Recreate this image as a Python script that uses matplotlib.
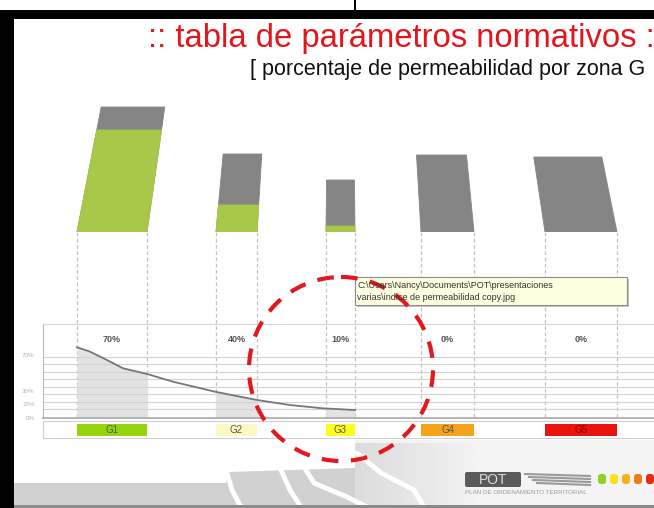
import numpy as np
import matplotlib.pyplot as plt
from matplotlib.patches import Polygon, Rectangle, Ellipse, FancyBboxPatch
from matplotlib.colors import LinearSegmentedColormap

plt.rcParams['font.family'] = ['Liberation Sans', 'DejaVu Sans']

W, H = 654, 508

# data
zones = ['G1', 'G2', 'G3', 'G4', 'G5']
permeability = [70, 40, 10, 0, 0]
zone_colors = ['#93d40c', '#fbf9c2', '#fdfd1c', '#f5a31d', '#e8120f']
prism_total = [125, 78, 52, 77, 75]
prism_green = [102, 27, 6, 0, 0]
curve_x = [77, 90, 107, 123, 147, 173, 215, 240, 257, 290, 323, 355]
curve_pct = [78.6, 73.7, 64.4, 55.2, 48.9, 40.3, 29.2, 23.7, 20.0, 14.4, 10.7, 8.9]
scale_ticks = [0, 15, 30, 70]

# layout (pixels)
col_left = [77, 216, 326, 421, 545]
col_right = [147, 257, 355, 474, 617]
centers = [(l + r) / 2 for l, r in zip(col_left, col_right)]
widths = [r - l for l, r in zip(col_left, col_right)]


def px_axes(x0, y0, x1, y1, **kw):
    return fig.add_axes([x0 / W, 1 - y1 / H, (x1 - x0) / W, (y1 - y0) / H], **kw)


fig = plt.figure(figsize=(W / 100, H / 100), dpi=100)
fig.patch.set_facecolor('white')

# ---- background slide (pixel coords)
bg = fig.add_axes([0, 0, 1, 1], zorder=0)
bg.set_xlim(0, W)
bg.set_ylim(H, 0)
bg.axis('off')
bg.add_patch(Rectangle((355, 440), W - 355, 65, color='#f4f4f4', lw=0))
fade = LinearSegmentedColormap.from_list('fade', ['#dcdcdc', '#f4f4f4'])
bg.imshow(np.linspace(0, 1, 100)[None, :], cmap=fade, aspect='auto',
          extent=(355, 480, 505, 443), zorder=1.5)
bg.add_patch(Polygon([(14, 483), (226, 483), (228, 472), (355, 468), (355, 505), (14, 505)],
                     color='#d1d1d1', lw=0))
stripes = [
    [(227, 473), (232, 490), (241, 507)],
    [(281, 470), (290, 490), (301, 507)],
    [(304, 467), (314, 483), (347, 497), (367, 507)],
    [(357, 453), (381, 473), (414, 490), (424, 507)],
]
for s in stripes:
    xs, ys = zip(*s)
    bg.plot(xs, ys, color='white', lw=3.5, solid_capstyle='round', solid_joinstyle='round')
bg.add_patch(Rectangle((0, 10), 14, H, color='black', lw=0, zorder=3))
bg.add_patch(Rectangle((0, 10), W, 9, color='black', lw=0, zorder=3))
bg.add_patch(Rectangle((354, 0), 2, 10, color='black', lw=0, zorder=3))
bg.add_patch(Rectangle((14, 505), W, 3, color='#8a8a8a', lw=0, zorder=3))
bg.set_xlim(0, W)
bg.set_ylim(H, 0)

bg.text(148, 38, ':: tabla de parámetros normativos :', color='#e4141b',
        fontsize=23.6, va='center', ha='left')
bg.text(250, 70, '[ porcentaje de permeabilidad por zona G', color='#111111',
        fontsize=15.5, va='center', ha='left')

# dashed column guides
for l, r in zip(col_left, col_right):
    bg.vlines([l, r], 232, 418, colors='#c4c4c4', linestyles=(0, (3, 2)), lw=0.9)

# POT logo
bg.add_patch(FancyBboxPatch((465, 472), 56, 15, boxstyle='round,pad=0,rounding_size=2',
                            color='#5a5a5a', lw=0, zorder=3))
bg.text(493, 479.5, 'POT', color='#dcdcdc', fontsize=10, ha='center', va='center', zorder=4)
for i in range(4):
    bg.plot([525 + i * 4, 590], [474 + i * 3, 476 + i * 3], color='#9a9a9a', lw=1.5)
for i, c in enumerate(['#8fd11b', '#f7e11a', '#f5b21a', '#f07b1a', '#e52b17']):
    bg.add_patch(FancyBboxPatch((598 + i * 12, 474), 8, 10,
                                boxstyle='round,pad=0,rounding_size=3', color=c, lw=0, zorder=3))
bg.text(465, 492, 'PLAN DE ORDENAMIENTO TERRITORIAL', color='#9a9a9a',
        fontsize=4.5, ha='left', va='center')

# ---- perspective bars
axb = px_axes(0, 100, W, 232, zorder=2)
axb.set_xlim(0, W)
axb.set_ylim(0, 132)
axb.axis('off')
vp, k = 341, 0.000733


def prism(l, r, h0, h1, color):
    s0, s1 = 1 - k * h0, 1 - k * h1
    pts = [(vp + (l - vp) * s0, h0), (vp + (r - vp) * s0, h0),
           (vp + (r - vp) * s1, h1), (vp + (l - vp) * s1, h1)]
    axb.add_patch(Polygon(pts, closed=True, color=color, lw=0.6, joinstyle='round'))


for l, r, t, g in zip(col_left, col_right, prism_total, prism_green):
    prism(l, r, 0, t, '#858585')
    if g > 0:
        prism(l, r, 0, g, '#a8c84a')

# ---- lower curve chart
axc = px_axes(43, 324, W, 418, zorder=2)
axc.patch.set_alpha(0)
axc.set_xlim(43, W)
axc.set_ylim(0, 104.4)
axc.hlines(np.linspace(10, 67.8, 8), 43, W, colors='#d2d2d2', lw=0.8)
for l, r in zip(col_left, col_right):
    fb = axc.fill_between(curve_x, 0, curve_pct, color='#e3e3e3', lw=0)
    fb.set_clip_path(Rectangle((l, 0), r - l, 104.4, transform=axc.transData))
axc.plot(curve_x, curve_pct, color='#777777', lw=1.3)
for c, p in zip(centers, permeability):
    axc.text(c, 87, f'{p}%', ha='center', va='center', fontsize=6.5,
             color='#555555', fontweight='bold')
axc.set_xticks([])
axc.set_yticks(scale_ticks)
axc.set_yticklabels([f'{t}%' for t in scale_ticks])
axc.tick_params(axis='y', length=0, pad=6, labelsize=4.5, labelcolor='#b5b5b5')
axc.spines['right'].set_visible(False)
axc.spines['top'].set_color('#d6d6d6')
axc.spines['left'].set_color('#b8b8b8')
axc.spines['bottom'].set_color('#a8a8a8')
axc.spines['bottom'].set_linewidth(1.2)

# ---- zone label strip
axs = px_axes(43, 421, W, 438, zorder=2)
axs.set_xlim(43, W)
axs.set_ylim(0, 1)
axs.bar(centers, 0.7, width=widths, bottom=0.12, color=zone_colors)
for c, z in zip(centers, zones):
    axs.text(c, 0.47, z, ha='center', va='center', fontsize=7,
             color='#8a0000' if z == 'G5' else '#555555')
axs.set_xticks([])
axs.set_yticks([])
for s in axs.spines.values():
    s.set_color('#d0d0d0')
axs.spines['right'].set_visible(False)

# ---- overlay: tooltip + red dashed circle
top = fig.add_axes([0, 0, 1, 1], zorder=10)
top.patch.set_alpha(0)
top.set_xlim(0, W)
top.set_ylim(H, 0)
top.axis('off')
top.add_patch(Rectangle((357, 279), 272, 28, color='#9a9a9a', alpha=0.6, lw=0))
top.add_patch(Rectangle((355, 277), 272, 28, facecolor='#ffffe1',
                        edgecolor='#8c8c8c', lw=0.8))
top.text(357, 285, 'C:\\Users\\Nancy\\Documents\\POT\\presentaciones', fontsize=6.5,
         color='#333333', va='center', ha='left')
top.text(357, 298, 'varias\\indice de permeabilidad copy.jpg', fontsize=6.5,
         color='#333333', va='center', ha='left')
top.add_patch(Ellipse((341, 369), 184, 184, fill=False, edgecolor='#e3171e',
                      lw=3, linestyle=(0, (4, 3))))

fig.savefig('out.png', dpi=100)
